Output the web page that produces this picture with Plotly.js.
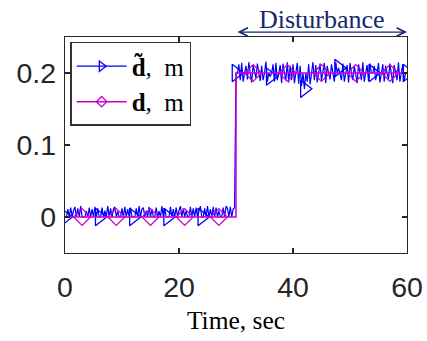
<!DOCTYPE html>
<html>
<head>
<meta charset="utf-8">
<script src="https://cdn.plot.ly/plotly-3.0.1.min.js"></script>
<style>html,body{margin:0;padding:0;background:#fff;}#chart{width:427px;height:341px;}</style>
</head>
<body>
<div id="chart"></div>
<script>
// Sampling step of the estimated signal (s)
const sampleStep = 0.25;

// Estimated disturbance d~ (m), sampled every 0.25 s from t = 0 to 60 s
const dTildeValues = [
  0,0,.011,0,.013,0,.009,.014,0,.012,0,.015,
  0,0,0,.008,0,.013,0,.011,0,.014,0,.012,
  0,0,.013,0,.009,0,.015,0,.012,0,.011,.014,
  0,.008,0,0,.012,0,.014,0,.011,0,.013,0,
  0,0,.012,0,.015,0,.011,.013,0,.009,0,.014,
  0,.011,0,0,.013,0,.008,0,.015,0,.012,0,
  0,0,.014,0,.011,0,.013,0,.009,.015,0,.012,
  0,.009,0,0,.014,0,.012,0,.013,0,.008,.015,
  0,0,.012,0,.015,0,.011,0,.014,0,.013,0,
  .009,0,0,.013,0,.015,.012,0,.014,0,.011,.013,
  .2,.2,.212,.19,.214,.188,.2,.21,.191,.215,.2,.187,
  .211,.2,.193,.213,.2,.189,.21,.19,.2,.216,.188,.2,
  .195,.2,.212,.188,.214,.19,.2,.211,.186,.213,.2,.19,
  .215,.187,.21,.19,.212,.186,.2,.214,.185,.21,.182,.2,
  .178,.2,.188,.212,.184,.2,.215,.19,.211,.187,.2,.213,
  .19,.2,.214,.186,.21,.2,.191,.212,.2,.188,.215,.2,
  .207,.2,.19,.213,.188,.2,.211,.187,.214,.2,.19,.21,
  .2,.186,.212,.2,.19,.215,.188,.2,.211,.189,.213,.2,
  .2,.21,.19,.2,.214,.187,.2,.212,.188,.21,.2,.191,
  .213,.2,.186,.211,.2,.19,.215,.188,.2,.212,.189,.2,
  .2
];
const dTildeMarkerEvery = 24; // a marker every 6 s

// True disturbance d (m): step from 0 to 0.2 m at t = 30 s
const dTime   = [0, 3, 9, 15, 21, 27, 30, 30, 33, 39, 45, 51, 57, 60];
const dValues = [0, 0, 0, 0, 0, 0, 0, 0.2, 0.2, 0.2, 0.2, 0.2, 0.2, 0.2];
const dMarkerFlags = [0, 1, 1, 1, 1, 1, 0, 0, 1, 1, 1, 1, 1, 0];

// Axis ticks
const xTicks = [0, 20, 40, 60];
const yTicks = [0, 0.1, 0.2];
const yTickText = ['0', '0.1', '0.2'];

// Disturbance window annotation
const disturbanceStart = 30;
const disturbanceEnd = 60;
const disturbanceLabel = 'Disturbance';

const blue = '#0000ff';
const magenta = '#cc00cc';
const navy = '#14296b';

const dTildeTime = dTildeValues.map((_, i) => i * sampleStep);
const mkT = [], mkV = [];
dTildeValues.forEach((v, i) => { if (i % dTildeMarkerEvery === 0) { mkT.push(dTildeTime[i]); mkV.push(v); } });
const dmT = [], dmV = [];
dTime.forEach((t, i) => { if (dMarkerFlags[i]) { dmT.push(t); dmV.push(dValues[i]); } });

const traces = [
  {x: dTildeTime, y: dTildeValues, mode: 'lines', line: {color: blue, width: 1.2}, showlegend: false, hoverinfo: 'skip'},
  {x: mkT, y: mkV, mode: 'markers', marker: {symbol: 'triangle-right-open', size: 15, color: blue, line: {color: blue, width: 1.3}}, showlegend: false, hoverinfo: 'skip'},
  {x: dTime, y: dValues, mode: 'lines', line: {color: magenta, width: 1.5}, showlegend: false, hoverinfo: 'skip'},
  {x: dmT, y: dmV, mode: 'markers', marker: {symbol: 'diamond-open', size: 13, color: magenta, line: {color: magenta, width: 1.3}}, showlegend: false, hoverinfo: 'skip'},
  {x: [null], y: [null], mode: 'lines+markers', name: '<b>d\u0303</b>,  m', line: {color: blue, width: 1.2}, marker: {symbol: 'triangle-right-open', size: 9, color: blue, line: {color: blue, width: 1.3}}},
  {x: [null], y: [null], mode: 'lines+markers', name: '<b>d</b>,  m', line: {color: magenta, width: 1.5}, marker: {symbol: 'diamond-open', size: 8, color: magenta, line: {color: magenta, width: 1.3}}}
];

const axisCommon = {
  showline: true, linecolor: '#262626', linewidth: 1.3, mirror: 'ticks',
  ticks: 'inside', ticklen: 5, tickwidth: 1.2, tickcolor: '#262626',
  showgrid: false, zeroline: false,
  tickfont: {family: 'Liberation Sans, Arial, sans-serif', size: 28.5, color: '#262626'}
};

const layout = {
  width: 427, height: 341,
  margin: {l: 65, r: 20, t: 37, b: 88},
  paper_bgcolor: '#fff', plot_bgcolor: '#fff',
  xaxis: Object.assign({}, axisCommon, {
    range: [0, 60], tickvals: xTicks, ticktext: xTicks.map(String), ticklabelstandoff: 8,
    title: {text: 'Time, sec', font: {family: 'Liberation Serif, Times New Roman, serif', size: 25.5, color: '#000'}, standoff: 9}
  }),
  yaxis: Object.assign({}, axisCommon, {
    range: [-0.05, 0.25], tickvals: yTicks, ticktext: yTickText, ticklabelstandoff: 2
  }),
  legend: {
    x: 0.015, y: 0.977, xanchor: 'left', yanchor: 'top',
    bgcolor: '#fff', bordercolor: '#333', borderwidth: 1.5,
    font: {family: 'Liberation Serif, Times New Roman, serif', size: 25, color: '#000'},
    itemwidth: 50, tracegroupgap: 0
  },
  annotations: [
    {x: disturbanceEnd, y: 1.023, xref: 'x', yref: 'paper', ax: disturbanceStart, ay: 0, axref: 'x', ayref: 'pixel',
     text: '', showarrow: true, arrowside: 'end+start', arrowhead: 5, startarrowhead: 5,
     arrowsize: 1.3, startarrowsize: 1.3, arrowwidth: 1.3, arrowcolor: navy},
    {x: (disturbanceStart + disturbanceEnd) / 2, y: 1.083, xref: 'x', yref: 'paper', yanchor: 'middle',
     text: disturbanceLabel, showarrow: false,
     font: {family: 'Liberation Serif, Times New Roman, serif', size: 26, color: navy}}
  ]
};

Plotly.newPlot('chart', traces, layout, {staticPlot: true, displayModeBar: false});
</script>
</body>
</html>
